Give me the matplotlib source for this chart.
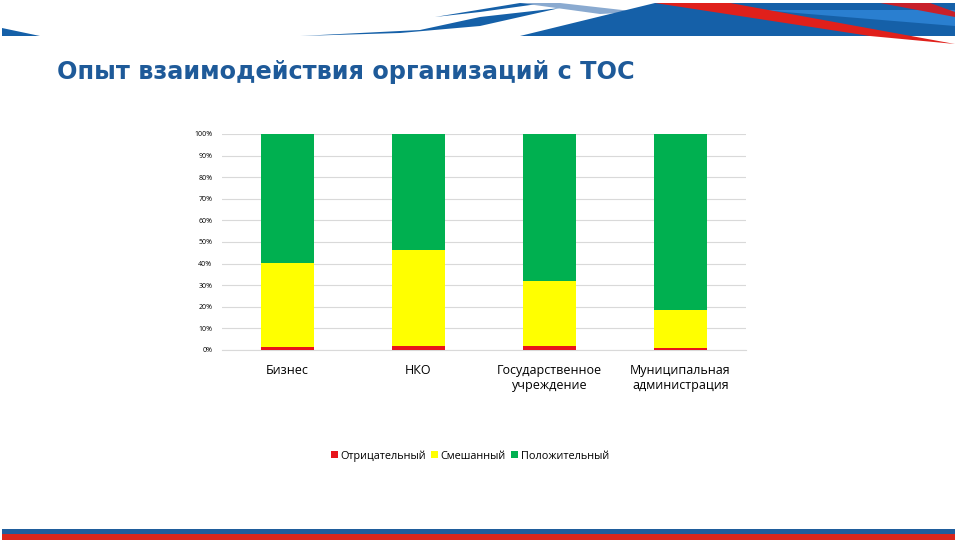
import matplotlib.pyplot as plt
from matplotlib.patches import Polygon
import numpy as np

plt.rcParams['font.family'] = ['Open Sans', 'DejaVu Sans']

categories = ["Бизнес", "НКО", "Государственное\nучреждение", "Муниципальная\nадминистрация"]
negative = [1.5, 2.0, 2.0, 1.0]
mixed = [39.0, 44.5, 30.0, 17.5]
positive = [59.5, 53.5, 68.0, 81.5]
series_names = ["Отрицательный", "Смешанный", "Положительный"]
colors = ["#E8141B", "#FFFF00", "#00B050"]
yticks = [0, 10, 20, 30, 40, 50, 60, 70, 80, 90, 100]

W, H = 960, 540
fig = plt.figure(figsize=(9.6, 5.4), dpi=100)


def px(points):
    # pixel coords -> figure fraction
    return [(x / W, 1 - y / H) for x, y in points]


def deco(points, color):
    fig.patches.append(Polygon(px(points), closed=True, transform=fig.transFigure,
                               facecolor=color, edgecolor="none", zorder=0))


# header decoration
deco([(2, 28), (2, 36), (40, 36)], "#1560A8")
deco([(300, 36), (400, 33), (480, 26), (560, 8), (480, 17), (420, 30)], "#1560A8")
deco([(435, 17), (520, 3), (545, 3), (480, 12)], "#1560A8")
deco([(520, 3), (560, 3), (640, 12), (600, 14)], "#8AAAD0")
deco([(520, 36), (655, 3), (955, 3), (955, 36)], "#1560A8")
deco([(760, 10), (955, 10), (955, 26)], "#2A7FD0")
deco([(655, 3), (730, 3), (955, 44), (870, 36)], "#E0201B")
deco([(880, 3), (930, 3), (955, 12), (955, 17)], "#C8202A")

# footer bands
deco([(2, 529), (955, 529), (955, 534), (2, 534)], "#1F5D9C")
deco([(2, 534), (955, 534), (955, 540), (2, 540)], "#D8261C")

fig.text(57 / W, 1 - 72 / H, "Опыт взаимодействия организаций с ТОС", fontsize=17.3,
         fontweight="bold", family="DejaVu Sans", color="#1E5A99",
         va="center", ha="left")

ax = fig.add_axes([222 / W, 1 - 350 / H, 524 / W, 216 / H])
x = np.arange(len(categories))
neg = np.array(negative)
mix = np.array(mixed)
pos = np.array(positive)
w = 0.4
ax.bar(x, neg, w, color=colors[0], label=series_names[0], zorder=3)
ax.bar(x, mix, w, bottom=neg, color=colors[1], label=series_names[1], zorder=3)
ax.bar(x, pos, w, bottom=neg + mix, color=colors[2], label=series_names[2], zorder=3)

ax.set_xlim(-0.5, len(categories) - 0.5)
ax.set_ylim(0, 100)
ax.set_yticks(yticks)
ax.set_yticklabels([f"{t}%" for t in yticks], fontsize=5)
ax.set_xticks(x)
ax.set_xticklabels(categories, fontsize=9)
ax.tick_params(axis="both", length=0, pad=7)
ax.tick_params(axis="x", pad=10)
ax.grid(axis="y", color="#D9D9D9", linewidth=0.8, zorder=0)
for s in ["top", "right", "left"]:
    ax.spines[s].set_visible(False)
ax.spines["bottom"].set_color("#D9D9D9")

fig.legend(loc="center", bbox_to_anchor=(470 / W, 1 - 456 / H), ncol=3, frameon=False,
           fontsize=7.8, handlelength=0.6, handleheight=0.6, handletextpad=0.25,
           columnspacing=0.5)

fig.savefig("out.png", dpi=100)
